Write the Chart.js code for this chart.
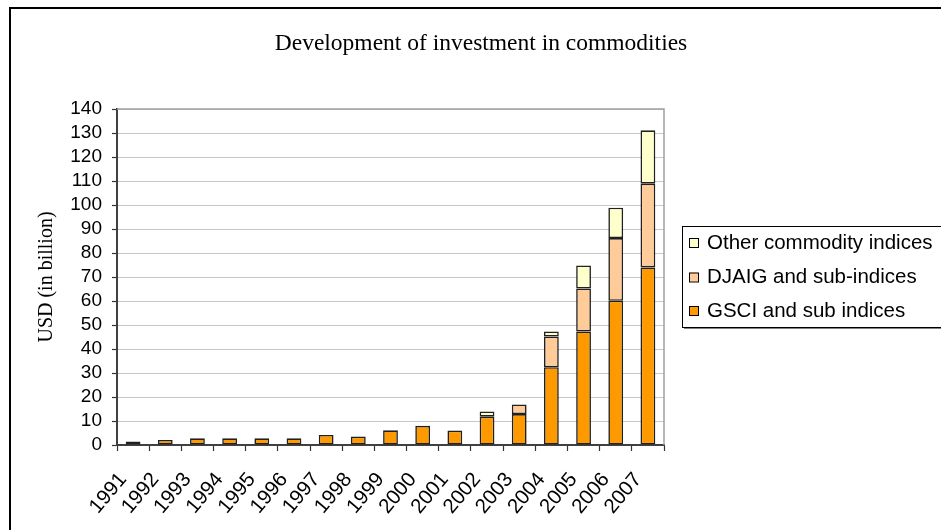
<!DOCTYPE html>
<html>
<head>
<meta charset="utf-8">
<script src="https://cdn.jsdelivr.net/npm/chart.js@4.4.1/dist/chart.umd.min.js"></script>
<style>
  html, body { margin: 0; padding: 0; background: #fff; }
  #wrap { width: 941px; height: 530px; position: relative; }
</style>
</head>
<body>
<div id="wrap"><canvas id="c" width="941" height="530"></canvas></div>
<script>
const chartTitle = 'Development of investment in commodities';
const yAxisTitle = 'USD (in billion)';
const years = ['1991','1992','1993','1994','1995','1996','1997','1998','1999','2000','2001','2002','2003','2004','2005','2006','2007'];
const gsci  = [1.5, 2.1, 2.8, 2.8, 2.8, 2.8, 4.2, 3.5, 6.1, 8.0, 6.0, 11.8, 12.9, 32.4, 47.3, 60.1, 74.0];
const djaig = [null, null, null, null, null, null, null, null, null, null, null, null, 4.0, 12.8, 17.9, 26.1, 34.9];
const other = [null, null, null, null, null, null, null, null, null, null, null, 2.2, null, 2.1, 9.6, 12.7, 22.2];
const seriesNames = ['GSCI and sub indices', 'DJAIG and sub-indices', 'Other commodity indices'];
const yTicks = [0, 10, 20, 30, 40, 50, 60, 70, 80, 90, 100, 110, 120, 130, 140];

const colors = ['#FF9900', '#FFCC99', '#FFFFCC'];

const decor = {
  id: 'decor',
  beforeDraw(chart) {
    const ctx = chart.ctx;
    ctx.save();
    ctx.fillStyle = '#ffffff';
    ctx.fillRect(0, 0, chart.width, chart.height);
    ctx.restore();
  },
  afterDraw(chart) {
    const ctx = chart.ctx;
    const a = chart.chartArea;
    ctx.save();
    // plot frame top/right
    ctx.strokeStyle = '#a0a0a0';
    ctx.lineWidth = 1.5;
    ctx.beginPath();
    ctx.moveTo(a.left, a.top);
    ctx.lineTo(a.right, a.top);
    ctx.lineTo(a.right, a.bottom);
    ctx.stroke();
    // outer border
    ctx.strokeStyle = '#000000';
    ctx.lineWidth = 2;
    ctx.beginPath();
    ctx.moveTo(10, chart.height + 5);
    ctx.lineTo(10, 8);
    ctx.lineTo(chart.width + 5, 8);
    ctx.stroke();
    // title
    ctx.fillStyle = '#000';
    ctx.font = '23.5px "Liberation Serif", "Times New Roman", serif';
    ctx.textAlign = 'center';
    ctx.textBaseline = 'middle';
    ctx.fillText(chartTitle, 481, 44);
    // legend
    const lx = 682, ly = 226, lh = 101;
    ctx.fillStyle = '#808080';
    ctx.fillRect(lx + 2, ly + lh, chart.width, 2);
    ctx.fillStyle = '#ffffff';
    ctx.fillRect(lx, ly, chart.width, lh);
    ctx.strokeStyle = '#000';
    ctx.lineWidth = 1;
    ctx.strokeRect(lx + 0.5, ly + 0.5, chart.width, lh);
    const ds = chart.data.datasets;
    const rows = [242, 276.5, 310];
    ctx.font = '20.5px "Liberation Sans", Arial, sans-serif';
    ctx.textAlign = 'left';
    ctx.textBaseline = 'middle';
    for (let i = 0; i < ds.length; i++) {
      const d = ds[ds.length - 1 - i];
      const y = rows[i];
      ctx.fillStyle = d.backgroundColor;
      ctx.fillRect(689, y - 4, 9, 9);
      ctx.strokeStyle = '#000';
      ctx.strokeRect(689.5, y - 3.5, 9, 9);
      ctx.fillStyle = '#000';
      ctx.fillText(d.label, 707, y + 1);
    }
    ctx.restore();
  }
};

const datasets = [gsci, djaig, other].map((vals, i) => ({
  label: seriesNames[i],
  data: vals,
  backgroundColor: colors[i],
  borderColor: '#202020',
  borderWidth: 1.6,
  borderSkipped: false,
  categoryPercentage: 1.0,
  barPercentage: 0.46
}));

new Chart(document.getElementById('c'), {
  type: 'bar',
  data: { labels: years, datasets },
  options: {
    responsive: false,
    animation: false,
    layout: { padding: { top: 109, right: 277, left: 0, bottom: 0 } },
    plugins: { legend: { display: false }, title: { display: false }, tooltip: { enabled: false } },
    scales: {
      x: {
        stacked: true,
        grid: { display: true, drawOnChartArea: false, offset: true, tickLength: 6, tickColor: '#333', tickWidth: 1.2 },
        border: { color: '#404040', width: 2 },
        ticks: { color: '#000', font: { family: '"Liberation Sans", Arial, sans-serif', size: 20.5 }, maxRotation: 50, minRotation: 50, autoSkip: false, padding: 17, labelOffset: -10 },
        afterFit(s) { s.height = 85; }
      },
      y: {
        stacked: true,
        min: 0, max: 140,
        afterBuildTicks(s) { s.ticks = yTicks.map(v => ({ value: v })); },
        grid: { color: '#c8c8c8', lineWidth: 1, tickLength: 5, tickColor: '#333', tickWidth: 1.2 },
        border: { color: '#404040', width: 2 },
        ticks: { color: '#000', font: { family: '"Liberation Sans", Arial, sans-serif', size: 19 }, padding: 10, autoSkip: false },
        title: { display: true, text: yAxisTitle, color: '#000', font: { family: '"Liberation Serif", "Times New Roman", serif', size: 20 }, padding: { top: 35 } },
        afterFit(s) { s.width = 117; }
      }
    }
  },
  plugins: [decor]
});
</script>
</body>
</html>
